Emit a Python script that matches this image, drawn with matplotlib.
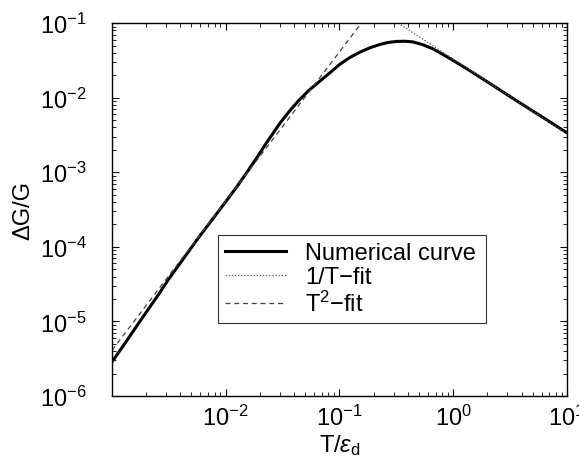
import numpy as np
import matplotlib.pyplot as plt

plt.rcParams['font.family'] = ['Liberation Sans', 'DejaVu Sans']
plt.rcParams['mathtext.fontset'] = 'custom'
plt.rcParams['mathtext.rm'] = 'Liberation Sans'
plt.rcParams['mathtext.it'] = 'Liberation Sans:italic'

# numerical curve (log10 of T/eps_d and of dG/G)
logT_num = [-3.000, -2.880, -2.730, -2.600, -2.500, -2.250, -2.000, -1.900, -1.813,
            -1.720, -1.637, -1.522, -1.434, -1.347, -1.260, -1.171, -1.083,
            -0.995, -0.907, -0.819, -0.731, -0.643, -0.568, -0.493, -0.420,
            -0.353, -0.265, -0.177, -0.090, 0.000, 0.118, 0.237, 0.380,
            0.527, 0.676, 0.826, 1.000]
logG_num = [-5.544, -5.280, -4.945, -4.660, -4.430, -3.900, -3.395, -3.190, -3.000,
            -2.790, -2.595, -2.340, -2.170, -2.020, -1.890, -1.777, -1.665,
            -1.550, -1.460, -1.389, -1.330, -1.285, -1.258, -1.245, -1.243,
            -1.252, -1.290, -1.345, -1.420, -1.500, -1.610, -1.725, -1.865,
            -2.010, -2.155, -2.300, -2.470]

# fits (straight lines in log-log, endpoints only)
T_inv = [0.33, 10.0]
G_inv = [0.1, 3.3e-3]
T_sq = [1.0e-3, 0.156]
G_sq = [4.1e-6, 0.1]

T_num = np.power(10.0, logT_num)
G_num = np.power(10.0, logG_num)

fig = plt.figure(figsize=(5.79, 4.64), dpi=100)
ax = fig.add_axes([0.1934, 0.1444, 0.7856, 0.8036])

ax.loglog(T_num, G_num, color='black', lw=2.2, label='Numerical curve')
ax.loglog(T_inv, G_inv, color='#555555', lw=0.9, ls=(0, (1, 1.5)), label='1/T\u2212fit')
ax.loglog(T_sq, G_sq, color='#444444', lw=0.9, ls=(0, (4, 3)), label='T$^2$\u2212fit')

ax.set_xlim(1e-3, 10)
ax.set_ylim(1e-6, 1e-1)
ax.set_xticks([1e-2, 1e-1, 1, 10])
ax.set_xticklabels(['10$^{-2}$', '10$^{-1}$', '10$^{0}$', '10$^{1}$'])
ax.set_yticks([1e-6, 1e-5, 1e-4, 1e-3, 1e-2, 1e-1])
ax.set_yticklabels(['10$^{-6}$', '10$^{-5}$', '10$^{-4}$', '10$^{-3}$', '10$^{-2}$', '10$^{-1}$'])

ax.tick_params(which='both', direction='in', top=True, right=True, labelsize=17)
ax.tick_params(which='major', length=5, width=0.8)
ax.tick_params(which='minor', length=3, width=0.6)
ax.tick_params(axis='y', pad=18)
ax.tick_params(axis='x', pad=6)
for s in ax.spines.values():
    s.set_linewidth(1.0)

ax.set_xlabel('T/$\\epsilon_{\\rm d}$', fontsize=17, labelpad=2)
ax.set_ylabel('\u0394G/G', fontsize=17, labelpad=4)

leg = ax.legend(loc='lower left', bbox_to_anchor=(0.233, 0.196, 0.589, 0.241),
                mode='expand', fontsize=17, frameon=True, fancybox=False,
                edgecolor='black', handlelength=2.6, borderpad=0.3,
                labelspacing=0.1, handletextpad=0.8, borderaxespad=0)
leg.get_frame().set_linewidth(0.8)

fig.savefig('out.png', dpi=100)
